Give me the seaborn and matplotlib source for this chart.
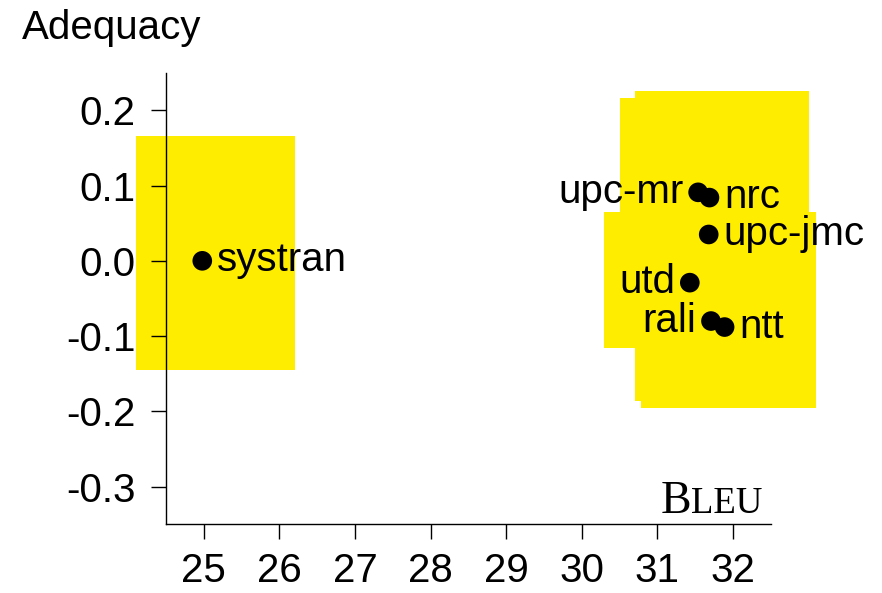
import matplotlib
matplotlib.use('Agg')
import matplotlib.pyplot as plt
import seaborn as sns
import pandas as pd
from matplotlib.patches import Rectangle

# systems, scores and where the name goes
systems = ['systran', 'upc-mr', 'nrc', 'upc-jmc', 'utd', 'rali', 'ntt']
bleu = [24.98, 31.54, 31.69, 31.68, 31.43, 31.71, 31.89]
adequacy = [0.0, 0.091, 0.084, 0.035, -0.029, -0.080, -0.088]
label_side = ['right', 'left', 'right', 'right', 'left', 'left', 'right']

# confidence boxes (bleu range x adequacy range) per system
bleu_lo = [24.10, 30.50, 30.70, 30.75, 30.30, 30.70, 30.79]
bleu_hi = [26.21, 32.55, 33.01, 32.80, 32.50, 32.70, 33.10]
adeq_lo = [-0.145, -0.02, -0.03, -0.10, -0.1157, -0.1864, -0.1961]
adeq_hi = [0.1656, 0.2164, 0.2253, 0.17, 0.0649, 0.03, 0.0649]

xticks = [25, 26, 27, 28, 29, 30, 31, 32]
xtick_labels = ['25', '26', '27', '28', '29', '30', '31', '32']
yticks = [0.2, 0.1, 0.0, -0.1, -0.2, -0.3]
ytick_labels = ['0.2', '0.1', '0.0', '-0.1', '-0.2', '-0.3']

sns.set_style('ticks')
plt.rcParams['font.family'] = ['Liberation Sans', 'DejaVu Sans']
plt.rcParams.update({'text.color': 'black', 'axes.edgecolor': 'black',
                     'xtick.color': 'black', 'ytick.color': 'black',
                     'axes.labelcolor': 'black'})

df = pd.DataFrame({'system': systems, 'bleu': bleu, 'adequacy': adequacy})

fig = plt.figure(figsize=(8.82, 5.93), dpi=100)
ax = fig.add_axes([0.1882, 0.1159, 0.6856, 0.7616])

for lo, hi, blo, bhi in zip(bleu_lo, bleu_hi, adeq_lo, adeq_hi):
    ax.add_patch(Rectangle((lo, blo), hi - lo, bhi - blo, facecolor='#ffed00',
                           edgecolor='none', zorder=0.5, clip_on=False))

sns.scatterplot(data=df, x='bleu', y='adequacy', ax=ax, color='black', s=200,
                edgecolor='none', zorder=3, clip_on=False)

for name, x, y, side in zip(systems, bleu, adequacy, label_side):
    dx = 10.5 if side == 'right' else -10.5
    ax.annotate(name, (x, y), xytext=(dx, -7.6), textcoords='offset points',
                ha='left' if side == 'right' else 'right', va='baseline',
                fontsize=29, zorder=4, color='black')

ax.set_xlim(24.5, 32.5)
ax.set_ylim(-0.35, 0.25)
ax.set_xticks(xticks)
ax.set_xticklabels(xtick_labels)
ax.set_yticks(yticks)
ax.set_yticklabels(ytick_labels)
ax.tick_params(axis='both', direction='out', length=10.8, width=1.0, labelsize=29,
               colors='black')
ax.tick_params(axis='x', pad=9)
ax.tick_params(axis='y', pad=11)
for sp in ['left', 'bottom']:
    ax.spines[sp].set_linewidth(1.0)
    ax.spines[sp].set_color('black')
    ax.spines[sp].set_zorder(2.5)
sns.despine(ax=ax)
ax.set_xlabel('')
ax.set_ylabel('')

fig.text(21.7 / 882, 1 - 39.3 / 593, 'Adequacy', fontsize=29, ha='left', va='baseline')

b = ax.text(0.818, 0.0257, 'B', transform=ax.transAxes, fontsize=33,
            family='Liberation Serif', ha='left', va='baseline')
ax.annotate('LEU', xy=(1, 0.0257), xycoords=(b, 'axes fraction'),
            fontsize=26.5, family='Liberation Serif', ha='left', va='baseline')

fig.savefig('out.png', dpi=100)
